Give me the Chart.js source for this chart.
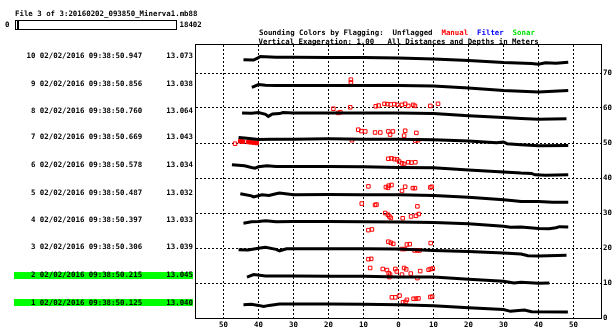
<!DOCTYPE html>
<html>
<head>
<meta charset="utf-8">
<script src="https://cdn.jsdelivr.net/npm/chart.js@4.4.0/dist/chart.umd.min.js"></script>
<style>
  html, body { margin: 0; padding: 0; background: #fff; }
  #wrap { position: relative; width: 616px; height: 333px; }
</style>
</head>
<body>
<div id="wrap"><canvas id="chart" width="616" height="333"></canvas></div>
<script>
// ping info, bottom (1) to top (10)
const pingNumbers = [1, 2, 3, 4, 5, 6, 7, 8, 9, 10];
const pingDate = '02/02/2016';
const pingTimes = ['09:38:50.125', '09:38:50.215', '09:38:50.306', '09:38:50.397', '09:38:50.487',
                   '09:38:50.578', '09:38:50.669', '09:38:50.760', '09:38:50.856', '09:38:50.947'];
const pingDepths = [13.040, 13.045, 13.039, 13.033, 13.032, 13.034, 13.043, 13.064, 13.038, 13.073];
const highlighted = [1, 2];

// soundings: [across-track distance, plotted depth]
const ping01 = [[-44.3,3.8],[-42,3.9],[-40,3.6],[-38.5,3.3],[-37,3.6],[-34,4.0],[-30,4.0],[-25,4.0],[-20,4.0],[-10,3.9],[0,3.8],[10,3.5],[20,2.9],[30,2.4],[32,1.9],[33.5,2.1],[36,2.3],[38,1.8],[48.4,1.7]];
const ping02 = [[-43.3,11.7],[-41.4,12.4],[-38,12.0],[-30,12.0],[-20,11.9],[-10,11.9],[0,11.7],[10,11.7],[20,11.1],[30,10.5],[33,10.0],[35,10.2],[40,9.9],[43.1,10.0]];
const ping03 = [[-45.7,19.5],[-43,19.4],[-40,19.9],[-38,20.2],[-35,19.6],[-34,19.2],[-32,19.8],[-20,19.8],[-10,19.8],[0,19.7],[10,19.3],[20,19.0],[30,18.6],[35,18.3],[37,17.8],[40,17.7],[48,17.9]];
const ping04 = [[-44.3,27.1],[-42,27.5],[-40,27.6],[-38,27.8],[-35,27.5],[-30,27.6],[-20,27.6],[-10,27.5],[0,27.4],[10,27.3],[20,26.9],[30,26.2],[32,25.9],[35,26.0],[40,25.6],[43,25.5],[45,25.8],[46,26.1],[48.5,26.0]];
const ping05 = [[-45.2,35.5],[-42,34.9],[-41.4,34.6],[-39,35.2],[-37,35.0],[-35,35.5],[-34,35.7],[-30,35.2],[-20,35.3],[-10,35.2],[0,35.2],[10,35.0],[20,34.5],[30,33.8],[33,33.5],[35,33.3],[40,33.3],[44,33.1],[48.5,33.1]];
const ping06 = [[-47.6,43.8],[-44,43.5],[-42,43.0],[-41,42.8],[-40,43.2],[-37.6,43.5],[-35,43.3],[-30,43.3],[-20,43.3],[-10,43.2],[0,43.0],[10,42.9],[20,42.3],[30,41.7],[35,41.4],[38,41.3],[39,40.9],[42,40.8],[48.5,40.9]];
const ping07 = [[-45.7,51.6],[-44,51.4],[-42,51.2],[-40,51.0],[-36.2,51.1],[-30,51.1],[-20,51.2],[-10,51.1],[0,51.1],[10,50.9],[20,50.6],[28,50.1],[30,50.3],[31,49.8],[35,49.5],[40,49.2],[48.5,49.3]];
const ping08 = [[-44.7,58.6],[-42,58.5],[-40,58.7],[-38,58.2],[-37.2,57.6],[-36,58.3],[-34,58.4],[-33,58.7],[-30,58.6],[-20,58.6],[-10,58.6],[0,58.6],[10,58.4],[20,57.8],[30,57.3],[35,57.0],[40,56.8],[48,56.9]];
const ping09 = [[-41.9,65.9],[-40,66.7],[-38,66.5],[-35,66.4],[-30,66.4],[-20,66.4],[-10,66.4],[0,66.4],[10,66.3],[20,65.7],[30,65.0],[35,64.8],[40,64.6],[48.5,65.0]];
const ping10 = [[-44.3,73.8],[-41.4,73.7],[-40,74.4],[-39.5,74.7],[-35,74.5],[-30,74.5],[-20,74.4],[-10,74.4],[0,74.3],[10,74.0],[20,73.6],[30,73.0],[38,72.7],[40,72.5],[42,72.9],[45,72.8],[48.5,73.1]];
const pings = [ping01, ping02, ping03, ping04, ping05, ping06, ping07, ping08, ping09, ping10];

// manually flagged soundings (red)
const manualFlags = [
  [-13.6,68.1],[-13.6,67.3],
  [-18.6,59.8],[-17.2,58.6],[-16.6,58.8],[-13.8,60.2],[-6.5,60.5],[-5.7,60.7],[-4.0,61.2],[-3.2,61.1],[-2.2,61.0],[-1.2,61.1],[-0.3,60.9],[1.0,60.9],[1.9,61.2],[2.8,60.6],[4.2,60.9],[4.7,60.6],[9.1,60.6],[11.3,61.2],
  [-11.5,53.8],[-10.6,53.4],[-9.5,53.3],[-6.7,53.0],[-5.2,53.0],[-2.9,53.3],[-1.6,53.3],[-2.4,52.4],[1.9,53.5],[1.6,52.1],[5.1,52.9],[-13.3,50.8],[4.8,50.7],[5.6,50.8],[-46.7,49.8],
  [-2.9,45.5],[-2.0,45.6],[-1.2,45.4],[-0.4,45.3],[0.2,44.7],[1.0,44.2],[1.6,44.0],[2.8,44.5],[3.7,44.4],[4.8,44.5],
  [-8.6,37.6],[-3.6,37.4],[-2.8,37.8],[-2.0,38.0],[-3.0,37.2],[1.0,36.3],[1.9,37.5],[4.1,37.1],[4.7,37.1],[9.1,37.3],[9.5,37.5],[-10.5,32.7],[-6.7,32.3],[-6.3,32.4],[5.4,31.9],
  [-3.8,30.0],[-3.0,29.5],[-2.6,29.0],[-2.2,28.6],[1.2,28.5],[3.6,29.0],[5.0,29.2],[5.8,29.7],[-8.6,25.1],[-7.6,25.3],
  [-2.9,21.8],[-2.2,21.5],[-1.5,21.2],[2.4,21.0],[3.2,21.1],[1.0,19.7],[1.8,19.7],[4.6,19.3],[5.4,19.3],[6.0,19.3],[9.2,21.4],[-8.6,16.8],[-7.8,16.9],[-8.1,14.3],
  [-4.5,14.0],[-3.3,13.7],[-2.8,12.8],[-2.4,12.4],[-2.6,11.7],[-0.9,14.0],[-0.5,13.3],[1.0,12.4],[1.6,14.3],[2.2,13.9],[3.5,12.7],[5.4,11.4],[6.2,13.4],[8.6,13.8],[9.2,14.0],[9.8,14.1],
  [-1.9,5.9],[-0.9,5.9],[0.3,6.4],[1.3,4.5],[2.0,4.6],[2.4,5.2],[4.3,5.5],[5.0,5.5],[5.7,5.6],[9.1,6.0],[9.6,6.1],
  [-9.0,-1.9],[-3.3,-2.4],[-2.2,-2.4],[-1.2,-2.3],[1.0,-2.2],[2.2,-2.3],[3.2,-2.4],[7.6,-2.1],[8.4,-2.2]
];
const manualFlagsDense = [[-45.2,50.5],[-44.5,50.4],[-43,50.3],[-42.2,50.2],[-41.3,50.1],[-40.5,50.0]];

const xTicks = [-50, -40, -30, -20, -10, 0, 10, 20, 30, 40, 50];
const yTicks = [0, 10, 20, 30, 40, 50, 60, 70];

const FONT_FAMILY = 'DejaVu Sans Mono';
const FONT = 'bold 7.4px "' + FONT_FAMILY + '"';

const toXY = arr => arr.map(([x, y]) => ({ x, y }));

const datasets = pings.map((p, i) => ({
  label: 'ping ' + pingNumbers[i],
  data: toXY(p),
  showLine: true,
  borderColor: '#000',
  borderWidth: 3,
  pointRadius: 0,
  tension: 0,
}));
datasets.push({
  label: 'manual',
  data: toXY(manualFlags),
  showLine: false,
  pointStyle: 'rect',
  pointRadius: 2.5,
  borderWidth: 1,
  borderColor: '#ff0000',
  backgroundColor: 'rgba(0,0,0,0)',
  clip: false,
});
datasets.push({
  label: 'manual dense',
  data: toXY(manualFlagsDense),
  showLine: false,
  pointStyle: 'rect',
  pointRadius: 2.5,
  borderWidth: 1,
  borderColor: '#ff0000',
  backgroundColor: '#ff0000',
  clip: false,
});

function centerDepth(p) {
  const pt = p.find(d => d[0] === 0);
  return pt ? pt[1] : p[Math.floor(p.length / 2)][1];
}

const overlay = {
  id: 'overlay',
  afterDraw(chart) {
    const ctx = chart.ctx;
    const { left, right, top, bottom } = chart.chartArea;
    const yScale = chart.scales.y;
    ctx.save();

    // plot frame
    ctx.strokeStyle = '#000';
    ctx.lineWidth = 1;
    ctx.strokeRect(Math.round(left) - 0.5, Math.round(top) - 0.5, Math.round(right - left) + 1, Math.round(bottom - top) + 1);

    ctx.font = FONT;
    ctx.fillStyle = '#000';
    ctx.textBaseline = 'alphabetic';
    ctx.textAlign = 'left';

    // file title + progress bar
    ctx.fillText('File 3 of 3:20160202_093850_Minerva1.mb88', 15, 16);
    ctx.fillText('0', 5, 27);
    ctx.strokeRect(15.5, 20.5, 161, 9);
    ctx.fillRect(17, 21, 2, 8);
    ctx.fillText('18402', 179.5, 27);

    // header with flag colors
    const parts = [
      ['Sounding Colors by Flagging:  ', '#000'],
      ['Unflagged  ', '#000'],
      ['Manual  ', '#ff0000'],
      ['Filter  ', '#0000ff'],
      ['Sonar', '#00e000'],
    ];
    let hx = 259;
    parts.forEach(([t, c]) => {
      ctx.fillStyle = c;
      ctx.fillText(t, hx, 35);
      hx += ctx.measureText(t).width;
    });
    ctx.fillStyle = '#000';
    ctx.fillText('Vertical Exageration: 1.00   All Distances and Depths in Meters', 258.5, 43.5);

    // ping labels
    pingNumbers.forEach((n, i) => {
      const py = yScale.getPixelForValue(centerDepth(pings[i])) - 2;
      if (highlighted.includes(n)) {
        ctx.fillStyle = '#00ff00';
        ctx.fillRect(14, Math.round(py - 3.5), 179, 7);
      }
      ctx.fillStyle = '#000';
      ctx.textBaseline = 'middle';
      ctx.textAlign = 'left';
      ctx.fillText(String(n).padStart(2, ' ') + ' ' + pingDate + ' ' + pingTimes[i], 26.5, py);
      ctx.textAlign = 'right';
      ctx.fillText(pingDepths[i].toFixed(3), 193, py);
    });
    ctx.restore();
  }
};

new Chart(document.getElementById('chart'), {
  type: 'scatter',
  data: { datasets },
  options: {
    responsive: false,
    animation: false,
    layout: { padding: { left: 196, top: 45, right: 0, bottom: 0 } },
    plugins: {
      legend: { display: false },
      tooltip: { enabled: false },
    },
    scales: {
      x: {
        type: 'linear',
        min: -57.86,
        max: 57.86,
        afterBuildTicks: axis => { axis.ticks = xTicks.map(v => ({ value: v })); },
        afterFit: axis => { axis.height = 15; },
        grid: { color: '#000', lineWidth: 1, drawTicks: false },
        border: { display: false, dash: [2, 2] },
        ticks: {
          color: '#000',
          padding: 3,
          maxRotation: 0,
          autoSkip: false,
          font: { family: FONT_FAMILY, size: 7.4, weight: 'bold' },
          callback: v => String(Math.abs(v)),
        },
      },
      y: {
        type: 'linear',
        position: 'right',
        min: 0,
        max: 78,
        afterBuildTicks: axis => { axis.ticks = yTicks.map(v => ({ value: v })); },
        afterFit: axis => { axis.width = 15; },
        grid: { color: '#000', lineWidth: 1, drawTicks: false },
        border: { display: false, dash: [2, 2] },
        ticks: {
          color: '#000',
          padding: 2,
          autoSkip: false,
          font: { family: FONT_FAMILY, size: 7.4, weight: 'bold' },
        },
      },
    },
  },
  plugins: [overlay],
});
</script>
</body>
</html>
